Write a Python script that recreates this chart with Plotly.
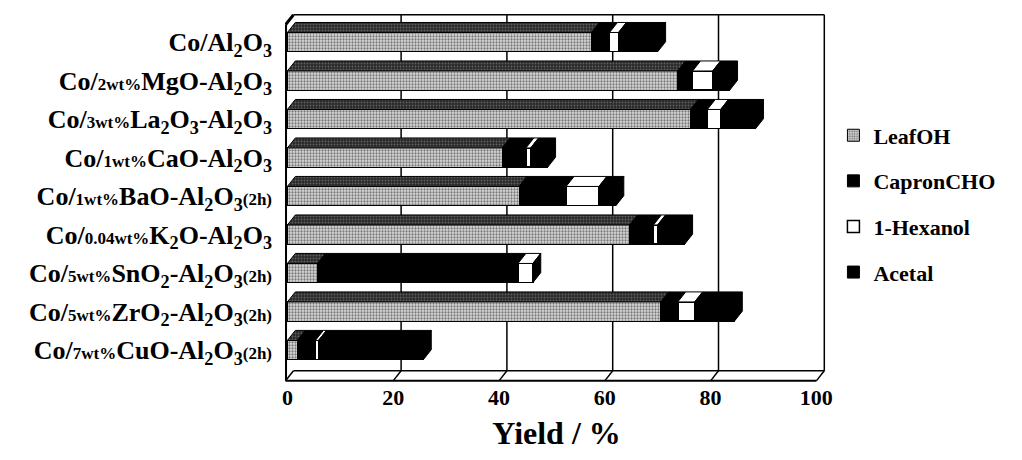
import plotly.graph_objects as go

# Catalysts, top to bottom
S = "<span style='font-size:17px'>{}</span>"
catalysts = [
    "Co/Al<sub>2</sub>O<sub>3</sub>",
    "Co/" + S.format("2wt%") + "MgO-Al<sub>2</sub>O<sub>3</sub>",
    "Co/" + S.format("3wt%") + "La<sub>2</sub>O<sub>3</sub>-Al<sub>2</sub>O<sub>3</sub>",
    "Co/" + S.format("1wt%") + "CaO-Al<sub>2</sub>O<sub>3</sub>",
    "Co/" + S.format("1wt%") + "BaO-Al<sub>2</sub>O<sub>3</sub>" + S.format("(2h)"),
    "Co/" + S.format("0.04wt%") + "K<sub>2</sub>O-Al<sub>2</sub>O<sub>3</sub>",
    "Co/" + S.format("5wt%") + "SnO<sub>2</sub>-Al<sub>2</sub>O<sub>3</sub>" + S.format("(2h)"),
    "Co/" + S.format("5wt%") + "ZrO<sub>2</sub>-Al<sub>2</sub>O<sub>3</sub>" + S.format("(2h)"),
    "Co/" + S.format("7wt%") + "CuO-Al<sub>2</sub>O<sub>3</sub>" + S.format("(2h)"),
]

# Product yields (%)
leafoh = [57.5, 73.8, 76.2, 40.6, 43.8, 64.7, 5.7, 70.6, 1.9]
capron_cho = [3.4, 2.8, 3.2, 4.5, 8.9, 4.5, 37.9, 3.2, 3.4]
hexanol = [1.7, 3.8, 2.5, 0.9, 6.2, 0.8, 2.8, 3.2, 0.6]
acetal = [7.4, 3.2, 6.6, 3.2, 3.2, 5.1, 0.0, 7.5, 19.8]

series_names = ["LeafOH", "CapronCHO", "1-Hexanol", "Acetal"]
x_ticks = [0, 20, 40, 60, 80, 100]

FONT = "Liberation Serif"
DX, DY = 1.5, 0.26          # depth offset of the pseudo-3D faces (data units)
HALF = 0.25                 # half bar thickness
X_RANGE = [-0.45, 102.2]
Y_RANGE = [8.83, -0.73]

speckle = dict(shape=".", fgcolor="#1a1a1a", bgcolor="#d9d9d9", size=3, solidity=0.45)
speckle_top = dict(shape=".", fgcolor="#9a9a9a", bgcolor="#262626", size=3, solidity=0.35)
styles = [
    dict(color="#d9d9d9", pattern=speckle, line=dict(color="black", width=1)),
    dict(color="black", line=dict(color="black", width=1)),
    dict(color="white", line=dict(color="black", width=1.5)),
    dict(color="black", line=dict(color="black", width=1)),
]

series = [leafoh, capron_cho, hexanol, acetal]
rows = list(range(len(catalysts)))

fig = go.Figure()

# Front faces: stacked horizontal bars
for name, vals, st in zip(series_names, series, styles):
    fig.add_trace(go.Bar(
        y=rows, x=vals, orientation="h", width=2 * HALF, name=name,
        marker=st, legendgroup=name,
    ))

# Top faces of each segment and the right-hand side face of each bar
starts = [0.0] * len(rows)
for k, (name, vals, st) in enumerate(zip(series_names, series, styles)):
    xs, ys = [], []
    for i, v in enumerate(vals):
        a, b = starts[i], starts[i] + v
        if v > 0:
            yt = i - HALF
            xs += [a, b, b + DX, a + DX, a, None]
            ys += [yt, yt, yt - DY, yt - DY, yt, None]
        starts[i] = b
    kw = dict(fillcolor=st["color"])
    if k == 0:
        kw["fillcolor"] = "#262626"
        kw["fillpattern"] = speckle_top
    fig.add_trace(go.Scatter(
        x=xs, y=ys, mode="lines", fill="toself", showlegend=False,
        line=dict(color="black", width=1), hoverinfo="skip", **kw,
    ))

sx, sy = [], []
for i, t in enumerate(starts):
    sx += [t, t + DX, t + DX, t, t, None]
    sy += [i + HALF, i + HALF - DY, i - HALF - DY, i - HALF, i + HALF, None]
fig.add_trace(go.Scatter(
    x=sx, y=sy, mode="lines", fill="toself", fillcolor="black", showlegend=False,
    line=dict(color="black", width=1), hoverinfo="skip",
))

# Box: back wall grid, floor and outline
shapes = []
y_top, y_front = Y_RANGE[1] + 0.02, Y_RANGE[0] - 0.03
y_back = y_front - DY
line = dict(color="black", width=1.5)
for v in x_ticks[1:-1]:
    shapes.append(dict(type="line", xref="x", yref="y", x0=v + DX, x1=v + DX,
                       y0=y_top, y1=y_back, line=line, layer="below"))
for v in x_ticks[1:]:
    shapes.append(dict(type="line", xref="x", yref="y", x0=v, x1=v + DX,
                       y0=y_front, y1=y_back, line=line, layer="below"))
x_left = X_RANGE[0] + 0.1
x_right = 100 + DX
shapes += [
    dict(type="line", xref="x", yref="y", x0=x_left, x1=x_left, y0=y_top + DY, y1=y_front,
         line=dict(color="black", width=3)),
    dict(type="line", xref="x", yref="y", x0=x_left, x1=x_left + DX, y0=y_top + DY, y1=y_top,
         line=dict(color="black", width=3)),
    dict(type="line", xref="x", yref="y", x0=x_left + DX, x1=x_right, y0=y_top, y1=y_top, line=line),
    dict(type="line", xref="x", yref="y", x0=x_right, x1=x_right, y0=y_top, y1=y_back, line=line),
    dict(type="line", xref="x", yref="y", x0=x_left + DX, x1=x_right, y0=y_back, y1=y_back, line=line),
    dict(type="line", xref="x", yref="y", x0=x_left, x1=100, y0=y_front, y1=y_front,
         line=dict(color="black", width=2)),
    dict(type="line", xref="x", yref="y", x0=x_left, x1=x_left + DX, y0=y_front, y1=y_back, line=line),
]

fig.update_layout(
    width=1022, height=460,
    margin=dict(l=285, r=194, t=14, b=78, autoexpand=False),
    paper_bgcolor="white", plot_bgcolor="white",
    barmode="stack", bargap=0.5,
    font=dict(family=FONT, color="black"),
    shapes=shapes,
    showlegend=True,
    legend=dict(
        x=1.01, xanchor="left", y=0.727, yanchor="top",
        traceorder="grouped", tracegroupgap=14, itemwidth=30,
        font=dict(family=FONT, size=22, color="black", weight="bold"),
        bgcolor="rgba(0,0,0,0)",
    ),
    xaxis=dict(
        range=X_RANGE, tickvals=x_ticks, ticktext=[str(v) for v in x_ticks],
        showgrid=False, zeroline=False, showline=False, ticks="",
        tickfont=dict(family=FONT, size=22, color="black", weight="bold"),
        title=dict(text="Yield / %", standoff=12,
                   font=dict(family=FONT, size=32, color="black", weight="bold")),
    ),
    yaxis=dict(
        range=Y_RANGE, tickvals=rows, ticktext=catalysts,
        showgrid=False, zeroline=False, showline=False, ticks="",
        ticklabelstandoff=12,
        tickfont=dict(family=FONT, size=26, color="black", weight="bold"),
    ),
)

fig.write_html("out.html")
